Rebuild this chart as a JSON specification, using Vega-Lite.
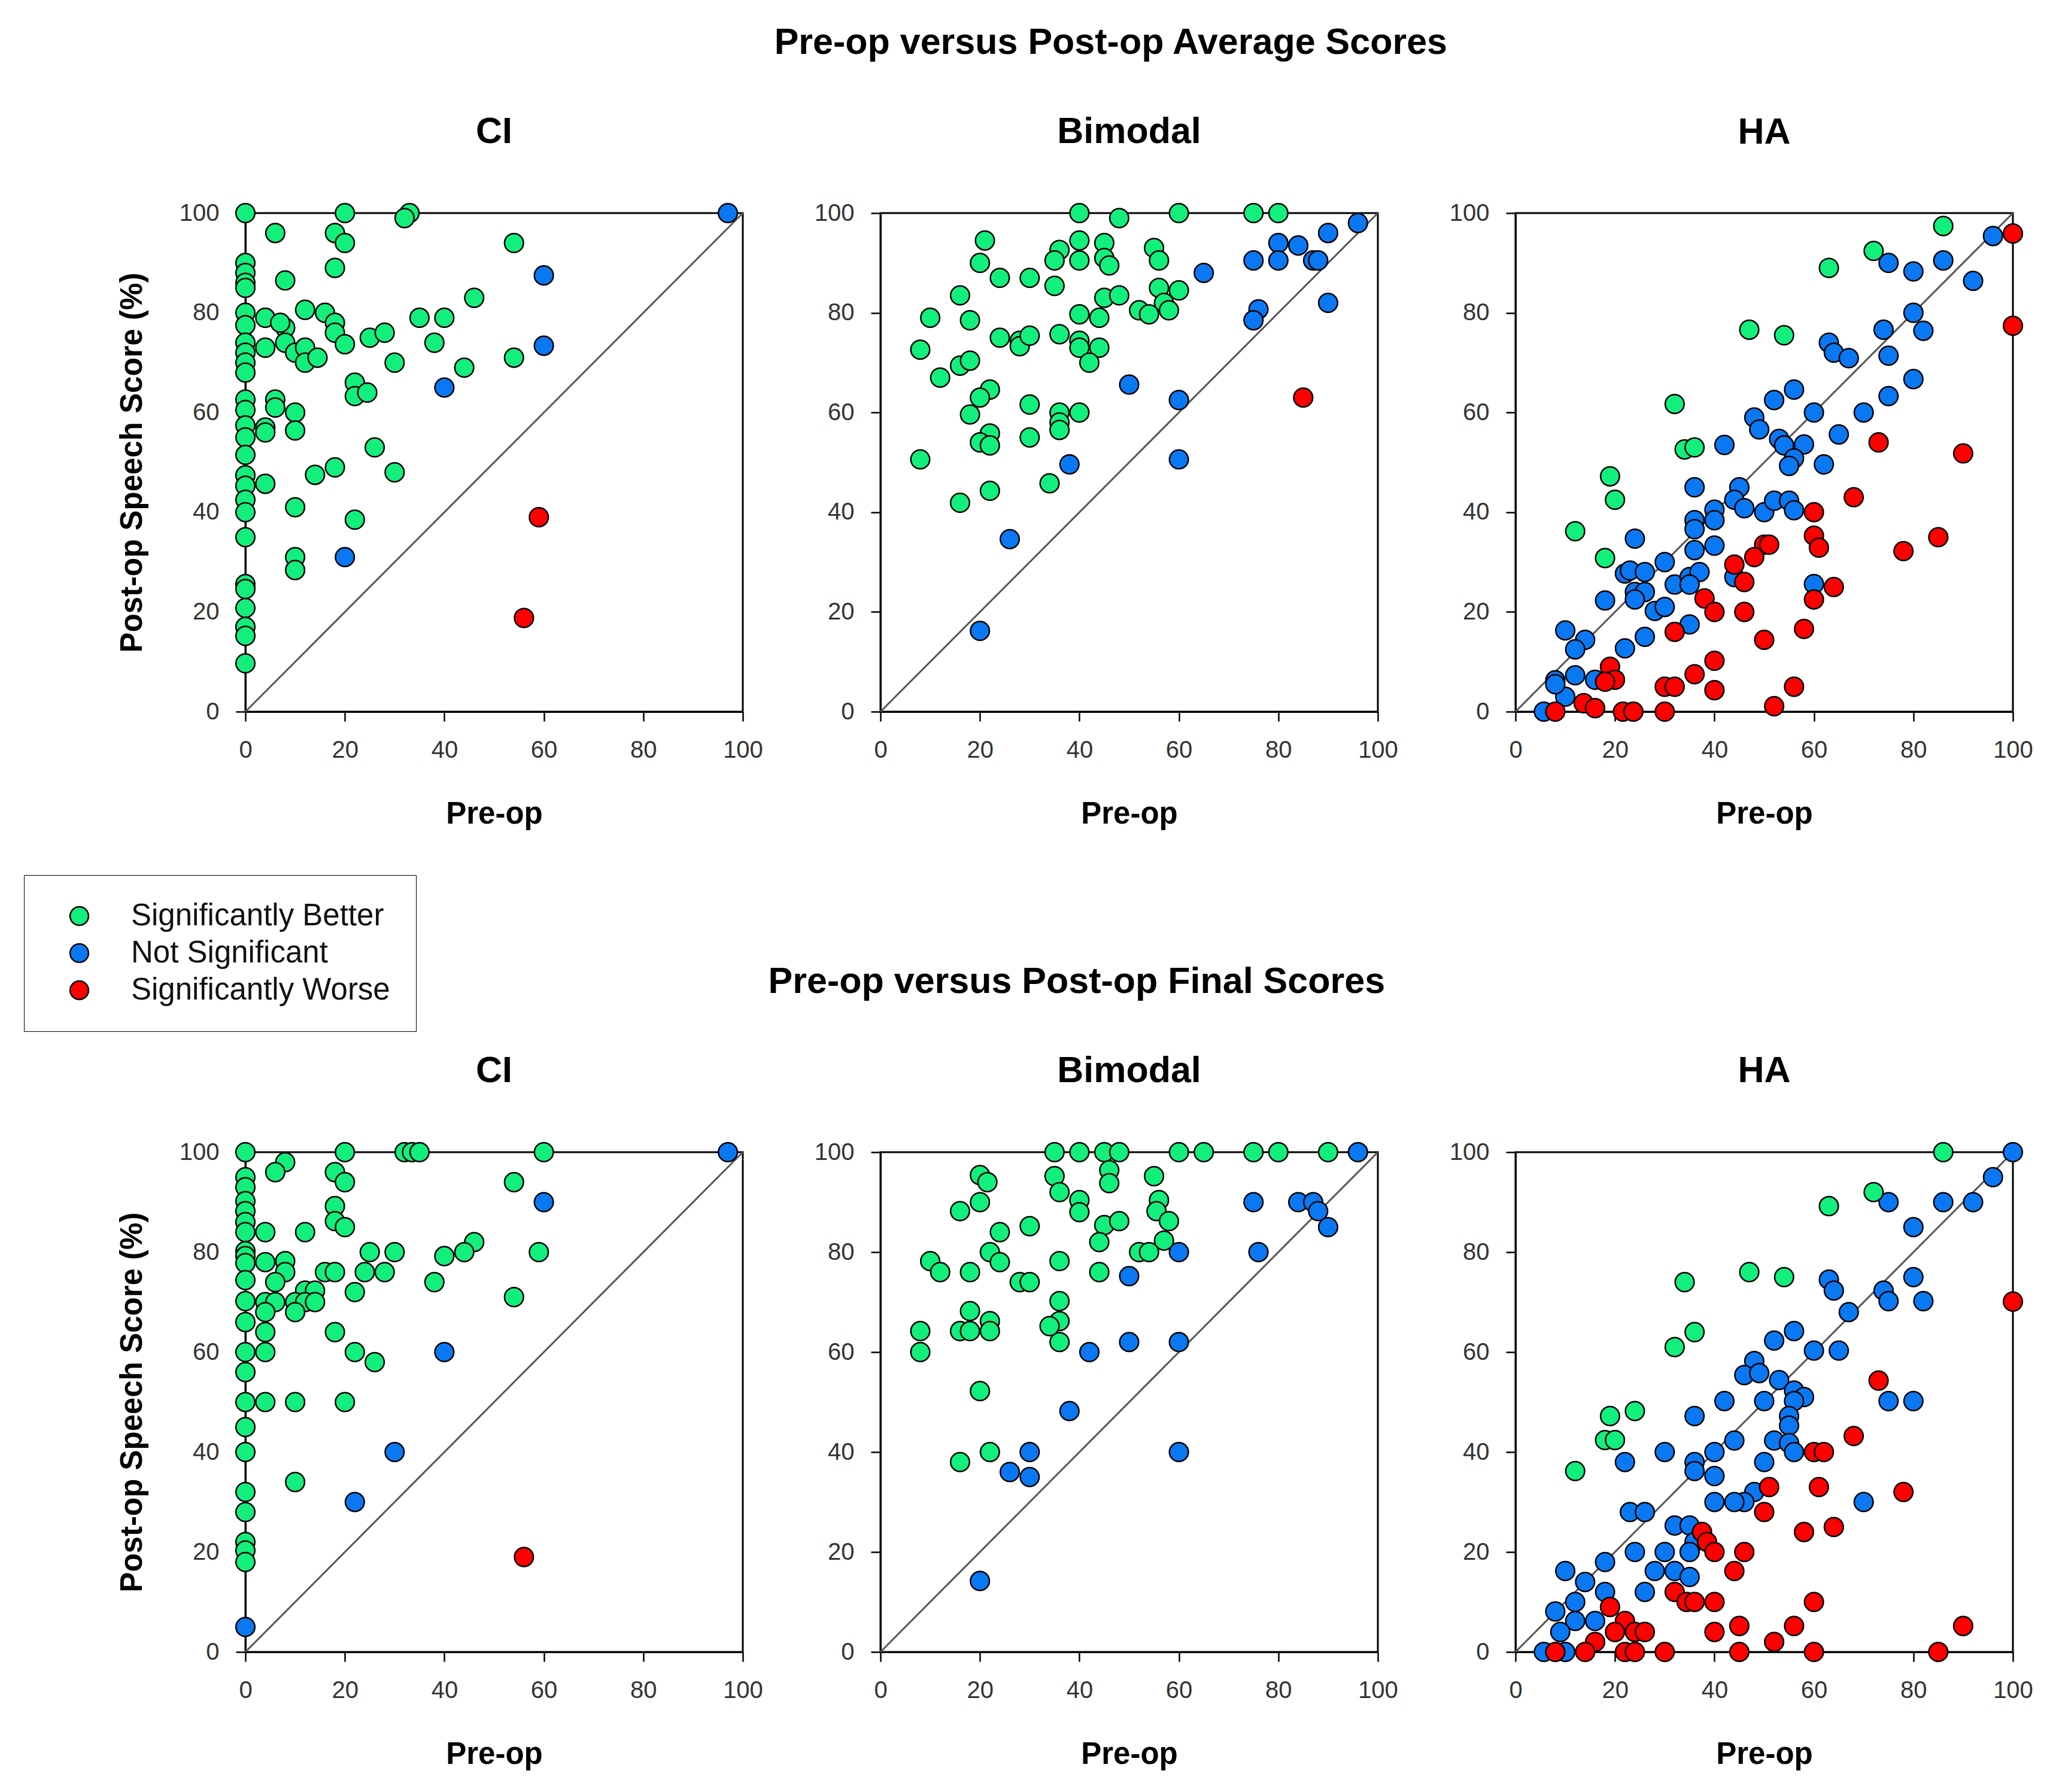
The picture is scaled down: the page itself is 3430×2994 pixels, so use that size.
{
"$schema": "https://vega.github.io/schema/vega-lite/v6.json",
"background": "white",
"padding": {"left": 39, "top": 40, "right": 20, "bottom": 20},
"datasets": {
"diag": [{"x":0,"y":0},{"x":100,"y":100}],
"ciA": [
{"x":0,"y":100,"c":"B"},{"x":20,"y":100,"c":"B"},{"x":33,"y":100,"c":"B"},{"x":32,"y":99,"c":"B"},{"x":6,"y":96,"c":"B"},{"x":18,"y":96,"c":"B"},{"x":20,"y":94,"c":"B"},{"x":54,"y":94,"c":"B"},
{"x":0,"y":90,"c":"B"},{"x":0,"y":88,"c":"B"},{"x":0,"y":86,"c":"B"},{"x":0,"y":85,"c":"B"},{"x":18,"y":89,"c":"B"},{"x":8,"y":86.5,"c":"B"},{"x":46,"y":83,"c":"B"},
{"x":0,"y":80,"c":"B"},{"x":4,"y":79,"c":"B"},{"x":12,"y":80.6,"c":"B"},{"x":16,"y":80,"c":"B"},{"x":35,"y":79,"c":"B"},{"x":40,"y":79,"c":"B"},{"x":8,"y":77,"c":"B"},{"x":0,"y":77.5,"c":"B"},{"x":18,"y":78,"c":"B"},{"x":18,"y":76,"c":"B"},{"x":7,"y":78,"c":"B"},
{"x":0,"y":74,"c":"B"},{"x":4,"y":73,"c":"B"},{"x":8,"y":74,"c":"B"},{"x":20,"y":73.7,"c":"B"},{"x":25,"y":75,"c":"B"},{"x":28,"y":76,"c":"B"},{"x":38,"y":74,"c":"B"},{"x":10,"y":72,"c":"B"},{"x":12,"y":73,"c":"B"},{"x":12,"y":70,"c":"B"},{"x":14.5,"y":71,"c":"B"},
{"x":0,"y":72,"c":"B"},{"x":0,"y":70,"c":"B"},{"x":0,"y":68,"c":"B"},{"x":30,"y":70,"c":"B"},{"x":44,"y":69,"c":"B"},{"x":54,"y":71,"c":"B"},
{"x":22,"y":66,"c":"B"},{"x":22,"y":63.3,"c":"B"},{"x":24.5,"y":64,"c":"B"},{"x":0,"y":62.6,"c":"B"},{"x":0,"y":60.5,"c":"B"},{"x":6,"y":62.6,"c":"B"},{"x":6,"y":61,"c":"B"},{"x":10,"y":60,"c":"B"},{"x":4,"y":57,"c":"B"},{"x":4,"y":56,"c":"B"},{"x":10,"y":56.4,"c":"B"},{"x":0,"y":57.4,"c":"B"},{"x":0,"y":55,"c":"B"},{"x":0,"y":51.5,"c":"B"},{"x":26,"y":53,"c":"B"},{"x":18,"y":49,"c":"B"},{"x":14,"y":47.5,"c":"B"},{"x":30,"y":48,"c":"B"},{"x":0,"y":47.4,"c":"B"},{"x":0,"y":45.3,"c":"B"},{"x":4,"y":45.7,"c":"B"},{"x":0,"y":42.5,"c":"B"},{"x":0,"y":40,"c":"B"},{"x":10,"y":41,"c":"B"},{"x":22,"y":38.5,"c":"B"},{"x":0,"y":35,"c":"B"},{"x":10,"y":31,"c":"B"},{"x":10,"y":28.4,"c":"B"},{"x":0,"y":25.6,"c":"B"},{"x":0,"y":24.6,"c":"B"},{"x":0,"y":20.8,"c":"B"},{"x":0,"y":17,"c":"B"},{"x":0,"y":15.2,"c":"B"},{"x":0,"y":9.7,"c":"B"},
{"x":97,"y":100,"c":"N"},{"x":60,"y":87.5,"c":"N"},{"x":60,"y":73.4,"c":"N"},{"x":40,"y":65,"c":"N"},{"x":20,"y":31,"c":"N"},
{"x":59,"y":39,"c":"W"},{"x":56,"y":18.8,"c":"W"}
],
"biA": [
{"x":40,"y":100,"c":"B"},{"x":48,"y":99,"c":"B"},{"x":60,"y":100,"c":"B"},{"x":75,"y":100,"c":"B"},{"x":80,"y":100,"c":"B"},{"x":21,"y":94.5,"c":"B"},{"x":36,"y":92.6,"c":"B"},{"x":35,"y":90.5,"c":"B"},{"x":40,"y":94.5,"c":"B"},{"x":40,"y":90.5,"c":"B"},{"x":45,"y":94,"c":"B"},{"x":45,"y":91,"c":"B"},{"x":46,"y":89.5,"c":"B"},{"x":55,"y":93,"c":"B"},{"x":56,"y":90.5,"c":"B"},{"x":20,"y":90,"c":"B"},{"x":24,"y":87,"c":"B"},{"x":30,"y":87,"c":"B"},{"x":35,"y":85.4,"c":"B"},{"x":16,"y":83.5,"c":"B"},{"x":45,"y":83,"c":"B"},{"x":48,"y":83.5,"c":"B"},{"x":56,"y":85,"c":"B"},{"x":60,"y":84.5,"c":"B"},{"x":57,"y":82,"c":"B"},{"x":58,"y":80.5,"c":"B"},{"x":52,"y":80.5,"c":"B"},{"x":54,"y":79.7,"c":"B"},{"x":10,"y":79,"c":"B"},{"x":18,"y":78.5,"c":"B"},{"x":40,"y":79.7,"c":"B"},{"x":44,"y":79,"c":"B"},{"x":24,"y":75,"c":"B"},{"x":28,"y":74.4,"c":"B"},{"x":28,"y":73.3,"c":"B"},{"x":30,"y":75.4,"c":"B"},{"x":36,"y":75.7,"c":"B"},{"x":40,"y":74.4,"c":"B"},{"x":40,"y":73,"c":"B"},{"x":44,"y":73,"c":"B"},{"x":42,"y":70,"c":"B"},{"x":8,"y":72.6,"c":"B"},{"x":16,"y":69.4,"c":"B"},{"x":18,"y":70.4,"c":"B"},{"x":12,"y":67,"c":"B"},{"x":22,"y":64.6,"c":"B"},{"x":20,"y":63,"c":"B"},{"x":18,"y":59.6,"c":"B"},{"x":30,"y":61.6,"c":"B"},{"x":36,"y":60,"c":"B"},{"x":36,"y":58,"c":"B"},{"x":36,"y":56.5,"c":"B"},{"x":40,"y":60,"c":"B"},{"x":22,"y":55.8,"c":"B"},{"x":20,"y":54,"c":"B"},{"x":22,"y":53.4,"c":"B"},{"x":30,"y":55,"c":"B"},{"x":8,"y":50.6,"c":"B"},{"x":34,"y":45.8,"c":"B"},{"x":22,"y":44.3,"c":"B"},{"x":16,"y":41.9,"c":"B"},
{"x":96,"y":98,"c":"N"},{"x":90,"y":96,"c":"N"},{"x":80,"y":94,"c":"N"},{"x":84,"y":93.5,"c":"N"},{"x":75,"y":90.5,"c":"N"},{"x":80,"y":90.5,"c":"N"},{"x":87,"y":90.5,"c":"N"},{"x":88,"y":90.5,"c":"N"},{"x":65,"y":88,"c":"N"},{"x":50,"y":65.6,"c":"N"},{"x":60,"y":62.5,"c":"N"},{"x":76,"y":80.7,"c":"N"},{"x":75,"y":78.5,"c":"N"},{"x":90,"y":82,"c":"N"},{"x":38,"y":49.6,"c":"N"},{"x":60,"y":50.6,"c":"N"},{"x":26,"y":34.6,"c":"N"},{"x":20,"y":16.2,"c":"N"},
{"x":85,"y":63,"c":"W"}
],
"haA": [
{"x":96,"y":95.4,"c":"N"},{"x":86,"y":90.5,"c":"N"},{"x":75,"y":90,"c":"N"},{"x":80,"y":88.3,"c":"N"},{"x":92,"y":86.4,"c":"N"},{"x":80,"y":80,"c":"N"},{"x":74,"y":76.6,"c":"N"},{"x":82,"y":76.4,"c":"N"},{"x":63,"y":74,"c":"N"},{"x":64,"y":72,"c":"N"},{"x":67,"y":70.9,"c":"N"},{"x":75,"y":71.4,"c":"N"},{"x":80,"y":66.7,"c":"N"},{"x":75,"y":63.3,"c":"N"},{"x":56,"y":64.6,"c":"N"},{"x":52,"y":62.5,"c":"N"},{"x":60,"y":60,"c":"N"},{"x":70,"y":60,"c":"N"},{"x":48,"y":59,"c":"N"},{"x":49,"y":56.6,"c":"N"},{"x":42,"y":53.5,"c":"N"},{"x":65,"y":55.6,"c":"N"},{"x":53,"y":54.7,"c":"N"},{"x":54,"y":53.4,"c":"N"},{"x":58,"y":53.6,"c":"N"},{"x":56,"y":50.8,"c":"N"},{"x":55,"y":49.3,"c":"N"},{"x":62,"y":49.6,"c":"N"},{"x":36,"y":45,"c":"N"},{"x":45,"y":45,"c":"N"},{"x":44,"y":42.5,"c":"N"},{"x":46,"y":40.8,"c":"N"},{"x":50,"y":40,"c":"N"},{"x":52,"y":42.3,"c":"N"},{"x":55,"y":42.3,"c":"N"},{"x":56,"y":40.4,"c":"N"},{"x":40,"y":40.5,"c":"N"},{"x":40,"y":38.4,"c":"N"},{"x":36,"y":38.4,"c":"N"},{"x":36,"y":36.6,"c":"N"},{"x":24,"y":34.7,"c":"N"},{"x":40,"y":33.3,"c":"N"},{"x":36,"y":32.4,"c":"N"},{"x":30,"y":30,"c":"N"},{"x":22,"y":27.7,"c":"N"},{"x":23,"y":28.3,"c":"N"},{"x":26,"y":28,"c":"N"},{"x":24,"y":24,"c":"N"},{"x":26,"y":24,"c":"N"},{"x":24,"y":22.5,"c":"N"},{"x":32,"y":25.5,"c":"N"},{"x":35,"y":27,"c":"N"},{"x":37,"y":28,"c":"N"},{"x":35,"y":25.5,"c":"N"},{"x":18,"y":22.3,"c":"N"},{"x":28,"y":20.2,"c":"N"},{"x":30,"y":21,"c":"N"},{"x":35,"y":17.5,"c":"N"},{"x":60,"y":25.6,"c":"N"},{"x":44,"y":27,"c":"N"},{"x":26,"y":15,"c":"N"},{"x":22,"y":12.7,"c":"N"},{"x":10,"y":16.3,"c":"N"},{"x":14,"y":14.4,"c":"N"},{"x":12,"y":12.5,"c":"N"},{"x":8,"y":6.3,"c":"N"},{"x":12,"y":7.3,"c":"N"},{"x":16,"y":6.4,"c":"N"},{"x":10,"y":3,"c":"N"},{"x":8,"y":5.5,"c":"N"},{"x":5.7,"y":0,"c":"N"},
{"x":100,"y":95.9,"c":"W"},{"x":100,"y":77.4,"c":"W"},{"x":73,"y":54,"c":"W"},{"x":90,"y":51.8,"c":"W"},{"x":68,"y":43,"c":"W"},{"x":60,"y":40,"c":"W"},{"x":85,"y":35,"c":"W"},{"x":60,"y":35.3,"c":"W"},{"x":61,"y":32.9,"c":"W"},{"x":78,"y":32.2,"c":"W"},{"x":50,"y":33.5,"c":"W"},{"x":51,"y":33.5,"c":"W"},{"x":48,"y":31,"c":"W"},{"x":44,"y":29.5,"c":"W"},{"x":46,"y":26,"c":"W"},{"x":64,"y":25,"c":"W"},{"x":60,"y":22.5,"c":"W"},{"x":38,"y":22.7,"c":"W"},{"x":40,"y":20,"c":"W"},{"x":46,"y":20,"c":"W"},{"x":58,"y":16.6,"c":"W"},{"x":32,"y":16,"c":"W"},{"x":50,"y":14.4,"c":"W"},{"x":40,"y":10.2,"c":"W"},{"x":19,"y":9,"c":"W"},{"x":20,"y":6.4,"c":"W"},{"x":18,"y":6,"c":"W"},{"x":36,"y":7.5,"c":"W"},{"x":30,"y":5,"c":"W"},{"x":32,"y":5,"c":"W"},{"x":40,"y":4.3,"c":"W"},{"x":56,"y":5,"c":"W"},{"x":8,"y":0,"c":"W"},{"x":13.7,"y":1.7,"c":"W"},{"x":16,"y":0.7,"c":"W"},{"x":21.6,"y":0,"c":"W"},{"x":23.7,"y":0,"c":"W"},{"x":30,"y":0,"c":"W"},{"x":52,"y":1.1,"c":"W"},
{"x":86,"y":97.4,"c":"B"},{"x":72,"y":92.4,"c":"B"},{"x":63,"y":89,"c":"B"},{"x":47,"y":76.6,"c":"B"},{"x":54,"y":75.5,"c":"B"},{"x":32,"y":61.7,"c":"B"},{"x":34,"y":52.6,"c":"B"},{"x":36,"y":53,"c":"B"},{"x":19,"y":47.2,"c":"B"},{"x":20,"y":42.5,"c":"B"},{"x":12,"y":36.2,"c":"B"},{"x":18,"y":30.8,"c":"B"}
],
"ciF": [
{"x":0,"y":100,"c":"B"},{"x":20,"y":100,"c":"B"},{"x":32,"y":100,"c":"B"},{"x":33.5,"y":100,"c":"B"},{"x":35,"y":100,"c":"B"},{"x":60,"y":100,"c":"B"},{"x":8,"y":98,"c":"B"},{"x":6,"y":96,"c":"B"},{"x":18,"y":96,"c":"B"},{"x":20,"y":94,"c":"B"},{"x":54,"y":94,"c":"B"},{"x":0,"y":95,"c":"B"},{"x":0,"y":93,"c":"B"},{"x":0,"y":90.2,"c":"B"},{"x":0,"y":88.2,"c":"B"},{"x":0,"y":86,"c":"B"},{"x":0,"y":84,"c":"B"},{"x":18,"y":89.2,"c":"B"},{"x":18,"y":86.2,"c":"B"},{"x":20,"y":85,"c":"B"},{"x":4,"y":84,"c":"B"},{"x":12,"y":84,"c":"B"},{"x":46,"y":82,"c":"B"},{"x":44,"y":80,"c":"B"},{"x":25,"y":80,"c":"B"},{"x":30,"y":80,"c":"B"},{"x":40,"y":79.2,"c":"B"},{"x":59,"y":80,"c":"B"},{"x":0,"y":80.2,"c":"B"},{"x":0,"y":79.2,"c":"B"},{"x":0,"y":77.8,"c":"B"},{"x":4,"y":78,"c":"B"},{"x":8,"y":78.2,"c":"B"},{"x":8,"y":76,"c":"B"},{"x":16,"y":76,"c":"B"},{"x":18,"y":76,"c":"B"},{"x":24,"y":76,"c":"B"},{"x":28,"y":76,"c":"B"},{"x":6,"y":74,"c":"B"},{"x":38,"y":74,"c":"B"},{"x":0,"y":74.4,"c":"B"},{"x":22,"y":72,"c":"B"},{"x":12,"y":72.3,"c":"B"},{"x":14,"y":72.3,"c":"B"},{"x":0,"y":70.2,"c":"B"},{"x":4,"y":70,"c":"B"},{"x":6,"y":70,"c":"B"},{"x":10,"y":70,"c":"B"},{"x":12,"y":70,"c":"B"},{"x":14,"y":70,"c":"B"},{"x":4,"y":68,"c":"B"},{"x":10,"y":68,"c":"B"},{"x":54,"y":71,"c":"B"},{"x":0,"y":66,"c":"B"},{"x":4,"y":64,"c":"B"},{"x":18,"y":64,"c":"B"},{"x":0,"y":60,"c":"B"},{"x":4,"y":60,"c":"B"},{"x":22,"y":60,"c":"B"},{"x":26,"y":58,"c":"B"},{"x":0,"y":56,"c":"B"},{"x":0,"y":50,"c":"B"},{"x":4,"y":50,"c":"B"},{"x":10,"y":50,"c":"B"},{"x":20,"y":50,"c":"B"},{"x":0,"y":45,"c":"B"},{"x":0,"y":40,"c":"B"},{"x":10,"y":34,"c":"B"},{"x":0,"y":32,"c":"B"},{"x":0,"y":28,"c":"B"},{"x":0,"y":22,"c":"B"},{"x":0,"y":20.3,"c":"B"},{"x":0,"y":18,"c":"B"},
{"x":97,"y":100,"c":"N"},{"x":60,"y":90,"c":"N"},{"x":40,"y":60,"c":"N"},{"x":30,"y":40,"c":"N"},{"x":22,"y":30,"c":"N"},{"x":0,"y":5,"c":"N"},
{"x":56,"y":19,"c":"W"}
],
"biF": [
{"x":35,"y":100,"c":"B"},{"x":40,"y":100,"c":"B"},{"x":45,"y":100,"c":"B"},{"x":48,"y":100,"c":"B"},{"x":60,"y":100,"c":"B"},{"x":65,"y":100,"c":"B"},{"x":75,"y":100,"c":"B"},{"x":80,"y":100,"c":"B"},{"x":90,"y":100,"c":"B"},{"x":20,"y":95.4,"c":"B"},{"x":21.5,"y":94,"c":"B"},{"x":35,"y":95.2,"c":"B"},{"x":46,"y":96.4,"c":"B"},{"x":46,"y":93.8,"c":"B"},{"x":55,"y":95.2,"c":"B"},{"x":36,"y":92,"c":"B"},{"x":40,"y":90.4,"c":"B"},{"x":40,"y":88,"c":"B"},{"x":20,"y":90,"c":"B"},{"x":16,"y":88.2,"c":"B"},{"x":56,"y":90.4,"c":"B"},{"x":55.5,"y":88.2,"c":"B"},{"x":58,"y":86.2,"c":"B"},{"x":24,"y":84,"c":"B"},{"x":30,"y":85.2,"c":"B"},{"x":45,"y":85.4,"c":"B"},{"x":48,"y":86.2,"c":"B"},{"x":44,"y":82,"c":"B"},{"x":57,"y":82.3,"c":"B"},{"x":52,"y":80,"c":"B"},{"x":54,"y":80,"c":"B"},{"x":22,"y":80,"c":"B"},{"x":24,"y":78,"c":"B"},{"x":10,"y":78.2,"c":"B"},{"x":12,"y":76,"c":"B"},{"x":18,"y":76,"c":"B"},{"x":36,"y":78.2,"c":"B"},{"x":44,"y":76,"c":"B"},{"x":28,"y":74,"c":"B"},{"x":30,"y":74,"c":"B"},{"x":36,"y":70.2,"c":"B"},{"x":36,"y":66.2,"c":"B"},{"x":36,"y":62,"c":"B"},{"x":34,"y":65.2,"c":"B"},{"x":18,"y":68.2,"c":"B"},{"x":22,"y":66.2,"c":"B"},{"x":22,"y":64.2,"c":"B"},{"x":16,"y":64.2,"c":"B"},{"x":18,"y":64.2,"c":"B"},{"x":8,"y":64.2,"c":"B"},{"x":8,"y":60,"c":"B"},{"x":20,"y":52.2,"c":"B"},{"x":22,"y":40,"c":"B"},{"x":16,"y":38,"c":"B"},
{"x":96,"y":100,"c":"N"},{"x":75,"y":90,"c":"N"},{"x":84,"y":90,"c":"N"},{"x":87,"y":90,"c":"N"},{"x":88,"y":88.2,"c":"N"},{"x":90,"y":85,"c":"N"},{"x":60,"y":80,"c":"N"},{"x":76,"y":80,"c":"N"},{"x":50,"y":75.2,"c":"N"},{"x":42,"y":60,"c":"N"},{"x":50,"y":62,"c":"N"},{"x":60,"y":62,"c":"N"},{"x":38,"y":48.2,"c":"N"},{"x":30,"y":40,"c":"N"},{"x":26,"y":36,"c":"N"},{"x":30,"y":35,"c":"N"},{"x":60,"y":40,"c":"N"},{"x":20,"y":14.2,"c":"N"}
],
"haF": [
{"x":100,"y":100,"c":"N"},{"x":96,"y":95,"c":"N"},{"x":75,"y":90,"c":"N"},{"x":86,"y":90,"c":"N"},{"x":92,"y":90,"c":"N"},{"x":80,"y":85,"c":"N"},{"x":80,"y":75,"c":"N"},{"x":74,"y":72.3,"c":"N"},{"x":75,"y":70.2,"c":"N"},{"x":82,"y":70.2,"c":"N"},{"x":63,"y":74.5,"c":"N"},{"x":64,"y":72.3,"c":"N"},{"x":67,"y":68,"c":"N"},{"x":56,"y":64.2,"c":"N"},{"x":52,"y":62.3,"c":"N"},{"x":60,"y":60.3,"c":"N"},{"x":65,"y":60.3,"c":"N"},{"x":48,"y":58.2,"c":"N"},{"x":46,"y":55.4,"c":"N"},{"x":49,"y":55.8,"c":"N"},{"x":53,"y":54.4,"c":"N"},{"x":56,"y":52.3,"c":"N"},{"x":58,"y":51,"c":"N"},{"x":56,"y":50.2,"c":"N"},{"x":42,"y":50.2,"c":"N"},{"x":50,"y":50.2,"c":"N"},{"x":75,"y":50.2,"c":"N"},{"x":80,"y":50.2,"c":"N"},{"x":36,"y":47.2,"c":"N"},{"x":55,"y":47.2,"c":"N"},{"x":55,"y":45.3,"c":"N"},{"x":44,"y":42.3,"c":"N"},{"x":52,"y":42.3,"c":"N"},{"x":55,"y":41.8,"c":"N"},{"x":56,"y":40,"c":"N"},{"x":30,"y":40,"c":"N"},{"x":40,"y":40,"c":"N"},{"x":22,"y":38,"c":"N"},{"x":36,"y":38,"c":"N"},{"x":36,"y":36.2,"c":"N"},{"x":40,"y":35.2,"c":"N"},{"x":50,"y":38,"c":"N"},{"x":48,"y":32,"c":"N"},{"x":46,"y":30,"c":"N"},{"x":44,"y":30,"c":"N"},{"x":40,"y":30,"c":"N"},{"x":70,"y":30,"c":"N"},{"x":23,"y":28,"c":"N"},{"x":26,"y":28,"c":"N"},{"x":32,"y":25.3,"c":"N"},{"x":35,"y":25.3,"c":"N"},{"x":36,"y":22,"c":"N"},{"x":35,"y":20,"c":"N"},{"x":24,"y":20,"c":"N"},{"x":30,"y":20,"c":"N"},{"x":18,"y":18,"c":"N"},{"x":10,"y":16.2,"c":"N"},{"x":28,"y":16.2,"c":"N"},{"x":32,"y":16.2,"c":"N"},{"x":35,"y":15,"c":"N"},{"x":14,"y":14,"c":"N"},{"x":18,"y":12,"c":"N"},{"x":26,"y":12,"c":"N"},{"x":12,"y":10,"c":"N"},{"x":8,"y":8.1,"c":"N"},{"x":12,"y":6.2,"c":"N"},{"x":16,"y":6.2,"c":"N"},{"x":9,"y":4,"c":"N"},{"x":10,"y":0,"c":"N"},{"x":5.7,"y":0,"c":"N"},
{"x":100,"y":70.1,"c":"W"},{"x":73,"y":54.3,"c":"W"},{"x":68,"y":43.2,"c":"W"},{"x":60,"y":40,"c":"W"},{"x":62,"y":40,"c":"W"},{"x":61,"y":33,"c":"W"},{"x":78,"y":32,"c":"W"},{"x":51,"y":33,"c":"W"},{"x":50,"y":28,"c":"W"},{"x":58,"y":24,"c":"W"},{"x":64,"y":25,"c":"W"},{"x":37.5,"y":24,"c":"W"},{"x":38.5,"y":22,"c":"W"},{"x":40,"y":20,"c":"W"},{"x":46,"y":20,"c":"W"},{"x":44,"y":16.2,"c":"W"},{"x":32,"y":12,"c":"W"},{"x":34.4,"y":10,"c":"W"},{"x":36,"y":10,"c":"W"},{"x":40,"y":10,"c":"W"},{"x":60,"y":10,"c":"W"},{"x":19,"y":9,"c":"W"},{"x":22,"y":6.2,"c":"W"},{"x":20,"y":4,"c":"W"},{"x":24,"y":4,"c":"W"},{"x":26,"y":4,"c":"W"},{"x":40,"y":4,"c":"W"},{"x":45,"y":5.2,"c":"W"},{"x":56,"y":5.2,"c":"W"},{"x":90,"y":5.2,"c":"W"},{"x":16,"y":2,"c":"W"},{"x":8,"y":0,"c":"W"},{"x":14,"y":0,"c":"W"},{"x":22,"y":0,"c":"W"},{"x":24,"y":0,"c":"W"},{"x":30,"y":0,"c":"W"},{"x":45,"y":0,"c":"W"},{"x":52,"y":2,"c":"W"},{"x":60,"y":0,"c":"W"},{"x":85,"y":0,"c":"W"},
{"x":86,"y":100,"c":"B"},{"x":72,"y":92,"c":"B"},{"x":63,"y":89.2,"c":"B"},{"x":47,"y":76,"c":"B"},{"x":54,"y":75,"c":"B"},{"x":34,"y":74,"c":"B"},{"x":36,"y":64,"c":"B"},{"x":32,"y":61,"c":"B"},{"x":19,"y":47.2,"c":"B"},{"x":24,"y":48.2,"c":"B"},{"x":18,"y":42.4,"c":"B"},{"x":20,"y":42.4,"c":"B"},{"x":12,"y":36.2,"c":"B"}
]
},
"config": {
"font": "Liberation Sans",
"view": {"stroke": "black", "strokeWidth": 3},
"axis": {"grid": false, "domainColor": "black", "domainWidth": 3, "tickColor": "black", "tickWidth": 2.5, "tickSize": 16, "labelFont": "Liberation Sans", "labelFontSize": 40, "labelColor": "#333333", "labelPadding": 28, "labelFlush": false, "labelOverlap": false, "titleFont": "Liberation Sans", "titleFontSize": 51, "titleFontWeight": "bold", "titleColor": "black"},
"axisX": {"titlePadding": 62},
"axisY": {"titlePadding": 52},
"title": {"font": "Liberation Sans", "fontSize": 61, "fontWeight": "bold", "color": "black", "offset": 83, "anchor": "middle"}
},
"spacing": 222,
"vconcat": [
{
"title": {"text": "Pre-op versus Post-op Average Scores", "fontSize": 61, "offset": 86, "anchor": "middle", "dx": 60},
"bounds": "flush",
"spacing": 230,
"hconcat": [
{"title": "CI", "width": 831, "height": 833, "layer": [
{"data": {"name": "diag"}, "mark": {"type": "line", "color": "#555555", "strokeWidth": 3}, "encoding": {"x": {"field": "x", "type": "quantitative", "scale": {"domain": [0, 100], "nice": false}, "axis": {"values": [0, 20, 40, 60, 80, 100]}, "title": "Pre-op"}, "y": {"field": "y", "type": "quantitative", "scale": {"domain": [0, 100], "nice": false}, "axis": {"values": [0, 20, 40, 60, 80, 100]}, "title": "Post-op Speech Score (%)"}}},
{"data": {"name": "ciA"}, "mark": {"type": "circle", "size": 1000, "opacity": 1, "stroke": "black", "strokeWidth": 2.5}, "encoding": {"x": {"field": "x", "type": "quantitative"}, "y": {"field": "y", "type": "quantitative"}, "color": {"field": "c", "type": "nominal", "scale": {"domain": ["B", "N", "W"], "range": ["#12EF7C", "#0A78F2", "#FF0000"]}, "legend": {"title": null, "orient": "none", "legendX": -370, "legendY": 1106, "strokeColor": "black", "padding": 43, "labelFontSize": 51, "labelFont": "Liberation Sans", "labelColor": "#111111", "labelLimit": 0, "labelOffset": 61, "symbolOffset": 24, "symbolSize": 950, "symbolStrokeColor": "black", "symbolStrokeWidth": 2.5, "symbolType": "circle", "rowPadding": 10, "labelExpr": "datum.label == 'B' ? 'Significantly Better' : datum.label == 'N' ? 'Not Significant' : 'Significantly Worse'"}}}}
]},
{"title": "Bimodal", "width": 831, "height": 833, "layer": [
{"data": {"name": "diag"}, "mark": {"type": "line", "color": "#555555", "strokeWidth": 3}, "encoding": {"x": {"field": "x", "type": "quantitative", "scale": {"domain": [0, 100], "nice": false}, "axis": {"values": [0, 20, 40, 60, 80, 100]}, "title": "Pre-op"}, "y": {"field": "y", "type": "quantitative", "scale": {"domain": [0, 100], "nice": false}, "axis": {"values": [0, 20, 40, 60, 80, 100]}, "title": null}}},
{"data": {"name": "biA"}, "mark": {"type": "circle", "size": 1000, "opacity": 1, "stroke": "black", "strokeWidth": 2.5}, "encoding": {"x": {"field": "x", "type": "quantitative"}, "y": {"field": "y", "type": "quantitative"}, "color": {"field": "c", "type": "nominal", "scale": {"domain": ["B", "N", "W"], "range": ["#12EF7C", "#0A78F2", "#FF0000"]}, "legend": {"title": null, "orient": "none", "legendX": -370, "legendY": 1106, "strokeColor": "black", "padding": 43, "labelFontSize": 51, "labelFont": "Liberation Sans", "labelColor": "#111111", "labelLimit": 0, "labelOffset": 61, "symbolOffset": 24, "symbolSize": 950, "symbolStrokeColor": "black", "symbolStrokeWidth": 2.5, "symbolType": "circle", "rowPadding": 10, "labelExpr": "datum.label == 'B' ? 'Significantly Better' : datum.label == 'N' ? 'Not Significant' : 'Significantly Worse'"}}}}
]},
{"title": "HA", "width": 831, "height": 833, "layer": [
{"data": {"name": "diag"}, "mark": {"type": "line", "color": "#555555", "strokeWidth": 3}, "encoding": {"x": {"field": "x", "type": "quantitative", "scale": {"domain": [0, 100], "nice": false}, "axis": {"values": [0, 20, 40, 60, 80, 100]}, "title": "Pre-op"}, "y": {"field": "y", "type": "quantitative", "scale": {"domain": [0, 100], "nice": false}, "axis": {"values": [0, 20, 40, 60, 80, 100]}, "title": null}}},
{"data": {"name": "haA"}, "mark": {"type": "circle", "size": 1000, "opacity": 1, "stroke": "black", "strokeWidth": 2.5}, "encoding": {"x": {"field": "x", "type": "quantitative"}, "y": {"field": "y", "type": "quantitative"}, "color": {"field": "c", "type": "nominal", "scale": {"domain": ["B", "N", "W"], "range": ["#12EF7C", "#0A78F2", "#FF0000"]}, "legend": {"title": null, "orient": "none", "legendX": -370, "legendY": 1106, "strokeColor": "black", "padding": 43, "labelFontSize": 51, "labelFont": "Liberation Sans", "labelColor": "#111111", "labelLimit": 0, "labelOffset": 61, "symbolOffset": 24, "symbolSize": 950, "symbolStrokeColor": "black", "symbolStrokeWidth": 2.5, "symbolType": "circle", "rowPadding": 10, "labelExpr": "datum.label == 'B' ? 'Significantly Better' : datum.label == 'N' ? 'Not Significant' : 'Significantly Worse'"}}}}
]}
]
},
{
"title": {"text": "Pre-op versus Post-op Final Scores", "fontSize": 61, "offset": 86, "anchor": "middle", "dx": 3},
"bounds": "flush",
"spacing": 230,
"hconcat": [
{"title": "CI", "width": 831, "height": 835, "layer": [
{"data": {"name": "diag"}, "mark": {"type": "line", "color": "#555555", "strokeWidth": 3}, "encoding": {"x": {"field": "x", "type": "quantitative", "scale": {"domain": [0, 100], "nice": false}, "axis": {"values": [0, 20, 40, 60, 80, 100]}, "title": "Pre-op"}, "y": {"field": "y", "type": "quantitative", "scale": {"domain": [0, 100], "nice": false}, "axis": {"values": [0, 20, 40, 60, 80, 100]}, "title": "Post-op Speech Score (%)"}}},
{"data": {"name": "ciF"}, "mark": {"type": "circle", "size": 1000, "opacity": 1, "stroke": "black", "strokeWidth": 2.5}, "encoding": {"x": {"field": "x", "type": "quantitative"}, "y": {"field": "y", "type": "quantitative"}, "color": {"field": "c", "type": "nominal", "scale": {"domain": ["B", "N", "W"], "range": ["#12EF7C", "#0A78F2", "#FF0000"]}, "legend": {"title": null, "orient": "none", "legendX": -370, "legendY": 1106, "strokeColor": "black", "padding": 43, "labelFontSize": 51, "labelFont": "Liberation Sans", "labelColor": "#111111", "labelLimit": 0, "labelOffset": 61, "symbolOffset": 24, "symbolSize": 950, "symbolStrokeColor": "black", "symbolStrokeWidth": 2.5, "symbolType": "circle", "rowPadding": 10, "labelExpr": "datum.label == 'B' ? 'Significantly Better' : datum.label == 'N' ? 'Not Significant' : 'Significantly Worse'"}}}}
]},
{"title": "Bimodal", "width": 831, "height": 835, "layer": [
{"data": {"name": "diag"}, "mark": {"type": "line", "color": "#555555", "strokeWidth": 3}, "encoding": {"x": {"field": "x", "type": "quantitative", "scale": {"domain": [0, 100], "nice": false}, "axis": {"values": [0, 20, 40, 60, 80, 100]}, "title": "Pre-op"}, "y": {"field": "y", "type": "quantitative", "scale": {"domain": [0, 100], "nice": false}, "axis": {"values": [0, 20, 40, 60, 80, 100]}, "title": null}}},
{"data": {"name": "biF"}, "mark": {"type": "circle", "size": 1000, "opacity": 1, "stroke": "black", "strokeWidth": 2.5}, "encoding": {"x": {"field": "x", "type": "quantitative"}, "y": {"field": "y", "type": "quantitative"}, "color": {"field": "c", "type": "nominal", "scale": {"domain": ["B", "N", "W"], "range": ["#12EF7C", "#0A78F2", "#FF0000"]}, "legend": {"title": null, "orient": "none", "legendX": -370, "legendY": 1106, "strokeColor": "black", "padding": 43, "labelFontSize": 51, "labelFont": "Liberation Sans", "labelColor": "#111111", "labelLimit": 0, "labelOffset": 61, "symbolOffset": 24, "symbolSize": 950, "symbolStrokeColor": "black", "symbolStrokeWidth": 2.5, "symbolType": "circle", "rowPadding": 10, "labelExpr": "datum.label == 'B' ? 'Significantly Better' : datum.label == 'N' ? 'Not Significant' : 'Significantly Worse'"}}}}
]},
{"title": "HA", "width": 831, "height": 835, "layer": [
{"data": {"name": "diag"}, "mark": {"type": "line", "color": "#555555", "strokeWidth": 3}, "encoding": {"x": {"field": "x", "type": "quantitative", "scale": {"domain": [0, 100], "nice": false}, "axis": {"values": [0, 20, 40, 60, 80, 100]}, "title": "Pre-op"}, "y": {"field": "y", "type": "quantitative", "scale": {"domain": [0, 100], "nice": false}, "axis": {"values": [0, 20, 40, 60, 80, 100]}, "title": null}}},
{"data": {"name": "haF"}, "mark": {"type": "circle", "size": 1000, "opacity": 1, "stroke": "black", "strokeWidth": 2.5}, "encoding": {"x": {"field": "x", "type": "quantitative"}, "y": {"field": "y", "type": "quantitative"}, "color": {"field": "c", "type": "nominal", "scale": {"domain": ["B", "N", "W"], "range": ["#12EF7C", "#0A78F2", "#FF0000"]}, "legend": {"title": null, "orient": "none", "legendX": -370, "legendY": 1106, "strokeColor": "black", "padding": 43, "labelFontSize": 51, "labelFont": "Liberation Sans", "labelColor": "#111111", "labelLimit": 0, "labelOffset": 61, "symbolOffset": 24, "symbolSize": 950, "symbolStrokeColor": "black", "symbolStrokeWidth": 2.5, "symbolType": "circle", "rowPadding": 10, "labelExpr": "datum.label == 'B' ? 'Significantly Better' : datum.label == 'N' ? 'Not Significant' : 'Significantly Worse'"}}}}
]}
]
}
]
}
